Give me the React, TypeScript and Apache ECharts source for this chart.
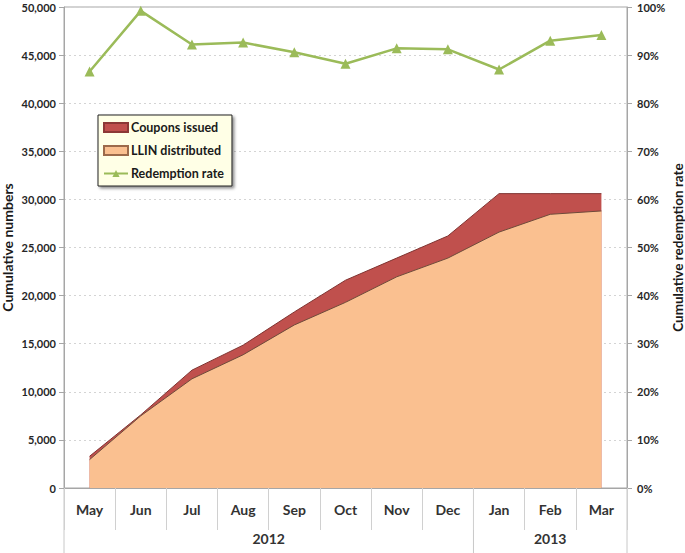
import React, { useEffect, useRef } from "react";
import * as echarts from "echarts";

const months = ["May", "Jun", "Jul", "Aug", "Sep", "Oct", "Nov", "Dec", "Jan", "Feb", "Mar"];
const yearLabels = ["2012", "2013"];
const yearSpans = [8, 3];
const couponsIssued = [3300, 7600, 12250, 14850, 18300, 21600, 23900, 26200, 30600, 30600, 30600];
const llinDistributed = [2950, 7500, 11350, 13850, 16950, 19300, 21950, 23900, 26600, 28450, 28800];
const redemptionRate = [86.6, 99.2, 92.2, 92.6, 90.6, 88.2, 91.4, 91.2, 87.0, 93.0, 94.2];

const FONT = "Lato, 'Open Sans', sans-serif";
const GRID = { left: 64, right: 58, top: 7, bottom: 65 };

export default function App() {
  const ref = useRef<HTMLDivElement>(null);
  useEffect(() => {
    if (!ref.current) return;
    const chart = echarts.init(ref.current, null, { renderer: "svg" });
    const option: any = {
      animation: false,
      textStyle: { fontFamily: FONT },
      grid: { ...GRID, containLabel: false, outerBoundsMode: "none", show: true, borderColor: "#a6a6a6", borderWidth: 1 },
      legend: {
        orient: "vertical",
        left: 98,
        top: 115,
        padding: [6, 8, 6, 5],
        itemGap: 10,
        itemWidth: 24,
        itemHeight: 9,
        backgroundColor: "#ffffe6",
        borderColor: "#222",
        borderWidth: 1,
        shadowColor: "rgba(0,0,0,0.45)",
        shadowBlur: 3,
        shadowOffsetX: 2,
        shadowOffsetY: 2,
        textStyle: { fontFamily: FONT, fontWeight: "bold", fontSize: 12.5, color: "#1a1a1a", padding: [0, 0, 0, -2] },
        data: [
          { name: "Coupons issued", icon: "rect" },
          { name: "LLIN distributed", icon: "rect" },
          { name: "Redemption rate" },
        ],
      },
      xAxis: [
        {
          type: "category",
          data: months,
          boundaryGap: true,
          axisLine: { lineStyle: { color: "#a6a6a6" } },
          axisTick: { show: true, interval: 0, length: 42, lineStyle: { color: "#d0d0d0" } },
          axisLabel: { interval: 0, margin: 14, fontFamily: FONT, fontWeight: "bold", fontSize: 14, color: "#333" },
        },
      ],
      yAxis: [
        {
          type: "value",
          min: 0,
          max: 50000,
          interval: 5000,
          name: "Cumulative numbers",
          nameLocation: "middle",
          nameGap: 50,
          nameMoveOverlap: false,
          nameTextStyle: { fontFamily: FONT, fontWeight: "bold", fontSize: 14, color: "#1a1a1a" },
          axisLine: { show: true, lineStyle: { color: "#a6a6a6" } },
          axisTick: { show: true, length: 5, lineStyle: { color: "#a6a6a6" } },
          axisLabel: {
            margin: 8,
            fontFamily: FONT,
            fontWeight: "bold",
            fontSize: 11,
            color: "#262626",
            formatter: (v: number) => v.toLocaleString("en-US"),
          },
          splitLine: { show: true, lineStyle: { color: "#d4d4d4", type: [2, 3] } },
        },
        {
          type: "value",
          min: 0,
          max: 100,
          interval: 10,
          position: "right",
          name: "Cumulative redemption rate",
          nameLocation: "middle",
          nameGap: 44,
          nameRotate: 90,
          nameMoveOverlap: false,
          nameTextStyle: { fontFamily: FONT, fontWeight: "bold", fontSize: 13.5, color: "#1a1a1a" },
          axisLine: { show: true, lineStyle: { color: "#a6a6a6" } },
          axisTick: { show: true, length: 5, lineStyle: { color: "#a6a6a6" } },
          axisLabel: { margin: 10, fontFamily: FONT, fontWeight: "bold", fontSize: 11, color: "#262626", formatter: "{value}%" },
          splitLine: { show: false },
        },
      ],
      series: [
        {
          name: "Coupons issued",
          type: "line",
          data: couponsIssued,
          symbol: "none",
          itemStyle: { color: "#c0504d", borderColor: "#8c3836", borderWidth: 1 },
          lineStyle: { color: "#7f3330", width: 1 },
          areaStyle: { color: "#c0504d", opacity: 1 },
          z: 2,
        },
        {
          name: "LLIN distributed",
          type: "line",
          data: llinDistributed,
          symbol: "none",
          itemStyle: { color: "#fac090", borderColor: "#9c6a4a", borderWidth: 1 },
          lineStyle: { color: "#6e4a3a", width: 1 },
          areaStyle: { color: "#fac090", opacity: 1 },
          z: 3,
        },
        {
          name: "Redemption rate",
          type: "line",
          yAxisIndex: 1,
          data: redemptionRate,
          symbol: "triangle",
          symbolSize: 10,
          itemStyle: { color: "#9bbb59" },
          lineStyle: { color: "#9bbb59", width: 2.5 },
          z: 4,
        },
      ],
    };
    chart.setOption(option);

    const x0 = chart.convertToPixel({ xAxisIndex: 0 }, 0) as number;
    const x1 = chart.convertToPixel({ xAxisIndex: 0 }, 1) as number;
    const band = x1 - x0;
    const start = x0 - band / 2;
    const yBase = chart.convertToPixel({ yAxisIndex: 0 }, 0) as number;
    const bottom = 553;
    const graphics: any[] = [];
    let idx = 0;
    const boundaries = [start];
    yearLabels.forEach((label, i) => {
      const a = start + idx * band;
      idx += yearSpans[i];
      const b = start + idx * band;
      boundaries.push(b);
      graphics.push({
        type: "text",
        x: (a + b) / 2,
        y: yBase + 50,
        style: {
          text: label,
          fontFamily: FONT,
          fontWeight: "bold",
          fontSize: 14,
          fill: "#333",
          align: "center",
          verticalAlign: "middle",
        },
      });
    });
    boundaries.forEach((bx) => {
      graphics.push({
        type: "line",
        shape: { x1: bx, y1: yBase, x2: bx, y2: bottom },
        style: { stroke: "#c8c8c8", lineWidth: 1 },
      });
    });
    chart.setOption({ graphic: graphics });

    return () => chart.dispose();
  }, []);
  return <div ref={ref} style={{ width: 685, height: 553, position: "absolute", left: 0, top: 0 }} />;
}
